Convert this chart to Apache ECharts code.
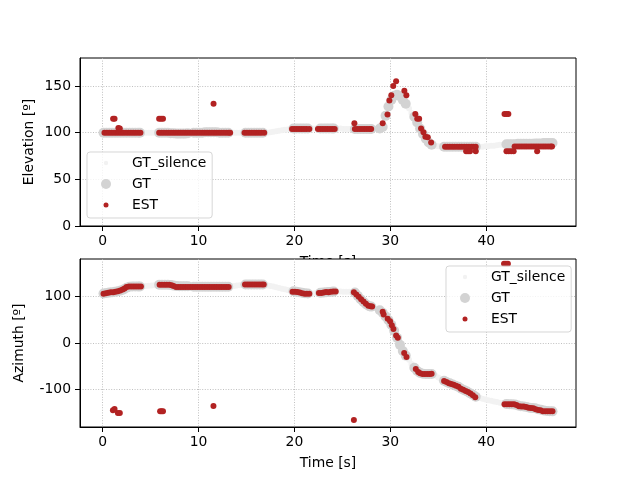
<!DOCTYPE html>
<html>
<head>
<meta charset="utf-8">
<script src="https://cdn.jsdelivr.net/npm/echarts@6.0.0/dist/echarts.min.js"></script>
<style>
html, body { margin: 0; padding: 0; background: #fff; }
#chart { width: 640px; height: 480px; }
</style>
</head>
<body>
<div id="chart"></div>
<script>
// ground truth during silence (only in the gaps between active segments)
var silenceTime = [4.2, 4.5, 4.8, 5.1, 5.4, 5.7,
	13.4, 13.7, 14.0, 14.3, 14.6,
	17.2, 17.5, 17.8, 18.1, 18.4, 18.7, 19.0, 19.3, 19.6,
	21.9, 22.2,
	24.5, 24.8, 25.1, 25.4, 25.7, 26.0,
	28.4, 28.7,
	31.95, 32.2,
	34.7, 35.0, 35.3,
	39.3, 39.6, 39.9, 40.2, 40.5, 40.8, 41.1, 41.4, 41.7];
var elevSilence = [100, 100, 100, 100, 100, 100,
	100, 100, 100, 100, 100,
	100, 100.5, 101, 101.5, 102, 102.5, 103, 103.5, 104,
	104.5, 104.5,
	104.5, 104.5, 104, 104, 104, 104,
	104, 104.5,
	126, 121,
	86, 85.5, 85,
	85, 85, 85.5, 85.5, 86, 86, 86.5, 87, 87];
var aziSilence = [121.5, 122, 122.5, 123, 123.5, 124.5,
	121, 122, 123, 124, 125,
	123, 122, 121, 119.5, 118, 116.5, 115, 113.5, 112,
	106, 107,
	110.5, 110.5, 110, 110, 110, 109.5,
	75, 72,
	-36, -45,
	-70, -74, -78,
	-117.5, -119.5, -121, -122.5, -124, -125.5, -126.5, -128, -129.5];

// ground truth while the source is active
var gtTime = [0.1, 0.4, 0.7, 1.0, 1.3, 1.6, 1.9, 2.2, 2.5, 2.8, 3.1, 3.4, 3.7, 3.9,
	5.9, 6.2, 6.5, 6.8, 7.1, 7.4, 7.7, 8.0, 8.3, 8.6, 8.9,
	9.5, 9.8, 10.1, 10.4, 10.7, 11.0, 11.3, 11.6, 11.9, 12.2, 12.5, 12.8, 13.1,
	14.9, 15.2, 15.5, 15.8, 16.1, 16.4, 16.7,
	19.9, 20.2, 20.5, 20.8, 21.1, 21.4,
	22.7, 23.0, 23.3, 23.6, 23.9, 24.1,
	26.3, 26.6, 26.9, 27.2, 27.5, 27.8, 28.0,
	28.9, 29.2, 29.5, 29.8, 30.1, 30.4, 30.7, 31.0, 31.3, 31.6,
	32.5, 32.8, 33.1, 33.4, 33.7, 34.0, 34.3,
	35.6, 35.9, 36.2, 36.5, 36.8, 37.1, 37.4, 37.7, 38.0, 38.3, 38.6, 38.9,
	42.1, 42.4, 42.7, 43.0, 43.3, 43.6, 43.9, 44.2, 44.5, 44.8, 45.1, 45.4, 45.7, 46.0, 46.3, 46.6, 46.9];
var elevGt = [100, 100, 100, 100, 100, 100, 100, 100, 100, 100, 100, 100, 100, 100,
	100, 100, 100, 100, 99.5, 99.5, 99, 99, 99, 99, 99.5,
	100, 100, 100, 100, 100.5, 100.5, 100.5, 100.5, 100.5, 100, 100, 100, 100,
	100, 100, 100, 100, 100, 100, 100,
	104.5, 104.5, 104.5, 104.5, 104.5, 104.5,
	104.5, 104.5, 104.5, 104.5, 104.5, 104.5,
	104, 104, 104, 104, 104, 104, 104,
	104.5, 106, 118, 128, 135, 139.5, 140.5, 139, 135, 131,
	117, 111, 104.5, 98.5, 93.5, 89.5, 87,
	85, 85, 85, 85, 85, 85, 85, 85, 85, 85, 85, 85,
	87.5, 87.5, 87.5, 87.5, 88, 88, 88, 88, 88, 88, 88.5, 88.5, 88.5, 89, 89, 89, 89];
var aziGt = [106, 107, 108, 109, 110, 111, 112.5, 114.5, 118.5, 120.5, 121, 121, 121, 121,
	125, 125, 125, 125, 124.5, 123, 122, 121.5, 121.5, 121.5, 121.5,
	120.5, 120.5, 120.5, 120.5, 120.5, 120.5, 120.5, 120.5, 120.5, 120.5, 120.5, 120.5, 120.5,
	125.5, 125.5, 125.5, 125.5, 125.5, 125.5, 125.5,
	111, 110, 109, 107.5, 106.5, 106,
	107.5, 108, 109, 109.5, 110, 110.5,
	108, 101, 94, 88, 82.5, 79, 78,
	70, 65, 57, 49, 39, 26, 11, -4, -17, -27,
	-53, -60, -64, -66, -66.5, -66.5, -66.5,
	-81, -84, -86.5, -89, -91.5, -94, -98, -101, -104, -107.5, -111, -115,
	-130.5, -131, -131.5, -132, -134, -135.5, -136, -137, -138.5, -139.5, -140, -142, -143, -144.5, -145.5, -146, -146.5];

// estimates [time, elevation]
var elevEst = [
	[0.2, 100], [0.45, 100], [0.7, 100], [0.95, 100], [1.2, 100], [1.45, 100], [1.7, 100], [1.95, 100],
	[2.2, 100], [2.45, 100], [2.7, 100], [2.95, 100], [3.2, 100], [3.45, 100], [3.7, 100], [3.95, 100],
	[1.1, 115], [1.25, 115], [1.65, 105], [1.8, 104.5],
	[5.9, 100], [6.15, 100], [6.4, 100], [6.65, 100], [6.9, 100], [7.15, 100], [7.4, 100], [7.65, 100],
	[7.9, 100], [8.15, 100], [8.4, 100], [8.65, 100], [8.9, 100], [9.15, 100], [9.4, 100], [9.65, 100],
	[9.9, 100], [10.15, 100], [10.4, 100], [10.65, 100], [10.9, 100], [11.15, 100], [11.4, 100], [11.65, 100],
	[11.9, 100], [12.15, 100], [12.4, 100], [12.65, 100], [12.9, 100], [13.15, 100], [13.3, 100],
	[5.9, 115], [6.1, 115], [6.3, 115], [11.57, 131],
	[14.8, 100], [15.05, 100], [15.3, 100], [15.55, 100], [15.8, 100], [16.05, 100], [16.3, 100], [16.55, 100], [16.85, 100],
	[19.75, 104], [20.0, 104], [20.25, 104], [20.5, 104], [20.75, 104], [21.0, 104], [21.25, 104], [21.55, 104],
	[22.45, 104], [22.7, 104], [22.95, 104], [23.2, 104], [23.45, 104], [23.7, 104], [23.95, 104], [24.2, 104],
	[26.3, 104], [26.55, 104], [26.8, 104], [27.05, 104], [27.3, 104], [27.55, 104], [27.8, 104], [28.0, 104], [26.25, 110],
	[29.2, 110], [29.7, 119.5], [29.9, 134.5], [30.1, 140], [30.3, 150], [30.6, 155], [31.46, 145], [31.67, 140],
	[32.6, 120], [32.8, 115], [33.0, 115], [33.2, 104.5], [33.45, 100.5], [33.65, 95.5], [33.9, 95], [34.25, 89.5],
	[35.7, 85], [35.95, 85], [36.2, 85], [36.45, 85], [36.7, 85], [36.95, 85], [37.2, 85], [37.45, 85],
	[37.7, 85], [37.95, 85], [38.2, 85], [38.45, 85], [38.65, 85], [38.9, 85],
	[37.9, 80], [38.1, 80], [38.3, 80], [38.9, 80],
	[41.9, 120], [42.1, 120], [42.3, 120],
	[42.1, 80], [42.35, 80], [42.6, 80], [42.85, 80], [45.3, 80],
	[42.95, 85.3], [43.2, 85.3], [43.45, 85.3], [43.7, 85.3], [43.95, 85.3], [44.2, 85.3], [44.45, 85.3], [44.7, 85.3],
	[44.95, 85.3], [45.2, 85.3], [45.45, 85.3], [45.7, 85.3], [45.95, 85.3], [46.2, 85.3], [46.45, 85.3], [46.7, 85.3], [46.85, 85.3]
];

// estimates [time, azimuth]
var aziEst = [
	[0.1, 105.5], [0.35, 106.5], [0.6, 107.5], [0.85, 108.5], [1.1, 109], [1.35, 110], [1.6, 111], [1.85, 112.5],
	[2.1, 114.5], [2.3, 117], [2.5, 120], [2.75, 121], [3.0, 121], [3.25, 121], [3.5, 121], [3.75, 121], [4.0, 121],
	[1.08, -144], [1.25, -141.5], [1.6, -150], [1.8, -150],
	[5.95, 125], [6.2, 125], [6.45, 125], [6.7, 125], [6.95, 125], [7.2, 124], [7.4, 122],
	[7.65, 120], [7.9, 120], [8.15, 120], [8.4, 120], [8.65, 120], [8.9, 120], [9.15, 120], [9.4, 120],
	[9.65, 120], [9.9, 120], [10.15, 120], [10.4, 120], [10.65, 120], [10.9, 120], [11.15, 120], [11.4, 120],
	[11.65, 120], [11.9, 120], [12.15, 120], [12.4, 120], [12.65, 120], [12.9, 120], [13.15, 120],
	[6.0, -146], [6.15, -146], [6.3, -146], [11.56, -135], [26.2, -165],
	[14.85, 125.5], [15.1, 125.5], [15.35, 125.5], [15.6, 125.5], [15.85, 125.5], [16.1, 125.5], [16.35, 125.5], [16.6, 125.5], [16.8, 125.5],
	[19.8, 110], [20.05, 110], [20.3, 109.5], [20.55, 108], [20.8, 106.5], [21.05, 105.5], [21.3, 105.5], [21.55, 105.5],
	[22.55, 107], [22.8, 107], [23.05, 108], [23.3, 109.5], [23.55, 109], [23.8, 110], [24.05, 110.5], [24.3, 110.5],
	[26.2, 109], [26.45, 104], [26.7, 99], [26.95, 93.5], [27.2, 89], [27.45, 84], [27.7, 80], [27.95, 78.5], [28.1, 78],
	[29.2, 67], [29.3, 61], [29.72, 52], [29.97, 46.5], [30.15, 38], [30.32, 30], [30.6, 16], [30.78, 11],
	[31.44, -21.5], [31.68, -30],
	[32.65, -55.5], [32.9, -62], [33.1, -65], [33.35, -66.5], [33.6, -66.5], [33.85, -66.5], [34.1, -66.5], [34.3, -66],
	[35.6, -81.5], [35.85, -83.5], [36.1, -86], [36.35, -88], [36.6, -89.5], [36.85, -91.5], [37.1, -94],
	[37.35, -98], [37.6, -100], [37.85, -103], [38.1, -105], [38.35, -108], [38.6, -112], [38.85, -116],
	[41.85, 170], [42.05, 170], [42.25, 170],
	[41.9, -131], [42.15, -131], [42.4, -131], [42.65, -131], [42.9, -131.5], [43.15, -133], [43.4, -135.5],
	[43.65, -136], [43.9, -136], [44.15, -137], [44.4, -139], [44.65, -139.5], [44.9, -140], [45.15, -142],
	[45.4, -143.5], [45.65, -144], [45.9, -146], [46.15, -146.5], [46.4, -146.5], [46.65, -146.5], [46.9, -146.5]
];

var xTicks = [0, 10, 20, 30, 40];
var elevTicks = [0, 50, 100, 150];
var aziTicks = [-100, 0, 100];

var FONT = 'DejaVu Sans';
var FS = 13.9;
var C_SIL = '#f2f2f2';
var C_GT = '#d3d3d3';
var C_EST = '#b22222';

function pairs(t, v) {
	var out = [];
	for (var i = 0; i < t.length; i++) {
		out.push([ t[i], v[i] ]);
	}
	return out;
}

// legend marker: circle of radius r inside a 36x14 box, centred at x=15
function dot(r) {
	return 'path://M0,0M36,14M' + (15 - r) + ',7A' + r + ',' + r + ',0,1,0,' + (15 + r) + ',7A' + r + ',' + r
			+ ',0,1,0,' + (15 - r) + ',7Z';
}

function xAxisOpt(idx, z) {
	return {
		type : 'value',
		gridIndex : idx,
		z : z,
		min : -2.35,
		max : 49.35,
		name : 'Time [s]',
		nameLocation : 'middle',
		nameGap : 29,
		nameMoveOverlap : false,
		nameTextStyle : {
			color : '#000',
			fontFamily : FONT,
			fontSize : FS
		},
		axisLine : {
			show : true,
			onZero : false,
			lineStyle : {
				color : '#000',
				width : 1
			}
		},
		axisTick : {
			show : true,
			length : 5,
			customValues : xTicks,
			lineStyle : {
				color : '#000',
				width : 1
			}
		},
		axisLabel : {
			customValues : xTicks,
			margin : 8,
			color : '#000',
			fontFamily : FONT,
			fontSize : FS
		},
		splitLine : {
			show : true,
			lineStyle : {
				color : '#b0b0b0',
				width : 0.8,
				type : [ 1, 1.6 ]
			}
		}
	};
}

function yAxisOpt(idx, z, name, gap, min, max, ticks) {
	var o = {
		type : 'value',
		gridIndex : idx,
		z : z,
		min : min,
		max : max,
		name : name,
		nameLocation : 'middle',
		nameRotate : 90,
		nameGap : gap,
		nameMoveOverlap : false,
		nameTextStyle : {
			color : '#000',
			fontFamily : FONT,
			fontSize : FS
		},
		axisLine : {
			show : true,
			onZero : false,
			lineStyle : {
				color : '#000',
				width : 1
			}
		},
		axisTick : {
			show : true,
			length : 5,
			customValues : ticks,
			lineStyle : {
				color : '#000',
				width : 1
			}
		},
		axisLabel : {
			customValues : ticks,
			margin : 9,
			color : '#000',
			fontFamily : FONT,
			fontSize : FS
		},
		splitLine : {
			show : true,
			lineStyle : {
				color : '#b0b0b0',
				width : 0.8,
				type : [ 1, 1.6 ]
			}
		}
	};
	if (idx == 0) {
		o.interval = 50;
	}
	return o;
}

function legendOpt(left, top) {
	return {
		orient : 'vertical',
		left : left,
		top : top,
		z : 10,
		selectedMode : false,
		itemWidth : 36,
		itemHeight : 14,
		itemGap : 7,
		padding : [ 4, 6, 6, 4 ],
		backgroundColor : 'rgba(255,255,255,0.8)',
		borderColor : 'rgba(204,204,204,0.8)',
		borderWidth : 1,
		borderRadius : 3,
		textStyle : {
			color : '#000',
			fontFamily : FONT,
			fontSize : FS
		},
		data : [ {
			name : 'GT_silence',
			icon : dot(2.2)
		}, {
			name : 'GT',
			icon : dot(5)
		}, {
			name : 'EST',
			icon : dot(2.5)
		} ]
	};
}

function scatter(name, idx, data, size, color, z) {
	return {
		name : name,
		type : 'scatter',
		xAxisIndex : idx,
		yAxisIndex : idx,
		z : z,
		symbol : 'circle',
		symbolSize : size,
		itemStyle : {
			color : color,
			opacity : 1
		},
		emphasis : {
			disabled : true
		},
		data : data
	};
}

var myChart = echarts.init(document.getElementById('chart'), null, {
	renderer : 'canvas'
});

var option = {
	animation : false,
	backgroundColor : '#fff',
	textStyle : {
		fontFamily : FONT
	},
	grid : [ {
		left : 80,
		top : 58,
		width : 496,
		height : 168,
		show : true,
		z : 0,
		backgroundColor : 'transparent',
		borderColor : '#000',
		borderWidth : 1,
		outerBoundsMode : 'none'
	}, {
		left : 80,
		top : 259,
		width : 496,
		height : 168,
		show : true,
		z : 1,
		backgroundColor : '#fff',
		borderColor : '#000',
		borderWidth : 1,
		outerBoundsMode : 'none'
	} ],
	xAxis : [ xAxisOpt(0, 0), xAxisOpt(1, 2) ],
	yAxis : [ yAxisOpt(0, 0, 'Elevation [º]', 44, 0, 180, elevTicks),
			yAxisOpt(1, 2, 'Azimuth [º]', 54, -180, 180, aziTicks) ],
	legend : [ legendOpt(87, 152), legendOpt(446, 266) ],
	series : [ scatter('GT_silence', 0, pairs(silenceTime, elevSilence), 6, C_SIL, 3),
			scatter('GT', 0, pairs(gtTime, elevGt), 10, C_GT, 4),
			scatter('EST', 0, elevEst, 6, C_EST, 5),
			scatter('GT_silence', 1, pairs(silenceTime, aziSilence), 6, C_SIL, 3),
			scatter('GT', 1, pairs(gtTime, aziGt), 10, C_GT, 4),
			scatter('EST', 1, aziEst, 6, C_EST, 5) ]
};
myChart.setOption(option);
</script>
</body>
</html>
